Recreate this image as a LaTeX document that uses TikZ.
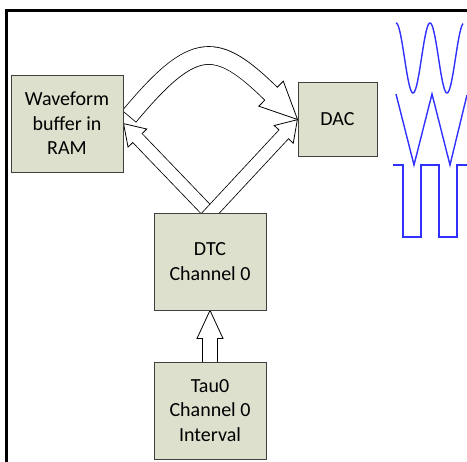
\documentclass[tikz,border=0pt]{standalone}
\usepackage{fontspec}
\setmainfont{Carlito}
\usetikzlibrary{calc,decorations.markings}
\pgfdeclarelayer{arrowlayer}
\pgfsetlayers{arrowlayer,main}
\definecolor{boxfill}{RGB}{221,224,204}
\definecolor{boxline}{RGB}{64,64,64}
\definecolor{waveblue}{RGB}{48,48,255}
\tikzset{
  unitbox/.style={draw=boxline, line width=0.9pt, fill=boxfill, align=center,
    font=\fontsize{20}{24.5}\selectfont, inner sep=0pt},
  % hollow block arrow: shaft width, head length, head half-width, tail extension
  blockarrow/.style n args={4}{
    preaction={draw=black, line width=#1+1.6pt, shorten >=#2-0.5pt, shorten <=-#4-0.8pt},
    preaction={decorate, decoration={markings, mark=at position 0.99999 with {
      \draw[black, fill=white, line width=0.8pt, line join=miter, shorten >=0pt, shorten <=0pt]
        (0pt,0pt) -- (-#2,#3) -- (-#2,-#3) -- cycle;}}},
    draw=white, line width=#1, shorten >=#2-1.5pt, shorten <=-#4
  },
  wave/.style={draw=waveblue, line width=1.4pt, line join=miter}
}
\begin{document}
\begin{tikzpicture}[x=1pt, y=-1pt]
\useasboundingbox (0,0) rectangle (467,462);

% outer frame (top and left sides)
\draw[line width=2.7pt, line join=miter] (467,10.3) -- (6.3,10.3) -- (6.3,462);

% blocks
\node[unitbox, minimum width=112pt, minimum height=97pt] (wf)  at (67,123.5)  {Waveform\\buffer in\\RAM};
\node[unitbox, minimum width=79pt,  minimum height=74pt] (dac) at (337.5,119.5) {DAC};
\node[unitbox, minimum width=112pt, minimum height=97pt] (dtc) at (210,261.5) {DTC\\Channel 0};
\node[unitbox, minimum width=112pt, minimum height=97pt] (tau) at (210,410.5) {Tau0\\Channel 0\\Interval};

% data flow arrows, kept under the blocks
\begin{pgfonlayer}{arrowlayer}
  \path[blockarrow={17pt}{37pt}{17.5pt}{0pt}]
    ($(wf.east)+(6,-7.5)$) .. controls ($(wf.east)+(71,-85.5)$) and ($(dac.west)+(-81,-79)$) .. (dac.west);
  \path[blockarrow={12pt}{20pt}{13pt}{8pt}] ($(dtc.north)+(-1,0)$) -- (wf.east);
  \path[blockarrow={12pt}{20pt}{13pt}{8pt}] ($(dtc.north)+(1,0)$) -- (dac.west);
  \path[blockarrow={14pt}{28pt}{13pt}{6pt}] (tau.north) -- (dtc.south);
\end{pgfonlayer}

% output waveforms
\draw[wave] plot[domain=0:67, samples=90, variable=\t] ({396+\t}, {58 - 35*cos(10.588*\t)});
\draw[wave] (396,94) -- (414,165) -- (432,94) -- (450,165) -- (467,95);
\draw[wave] (393,165) -- (403,165) -- (403,237) -- (421,237) -- (421,165) -- (439,165)
  -- (439,237) -- (457,237) -- (457,165) -- (467,165);
\end{tikzpicture}
\end{document}
